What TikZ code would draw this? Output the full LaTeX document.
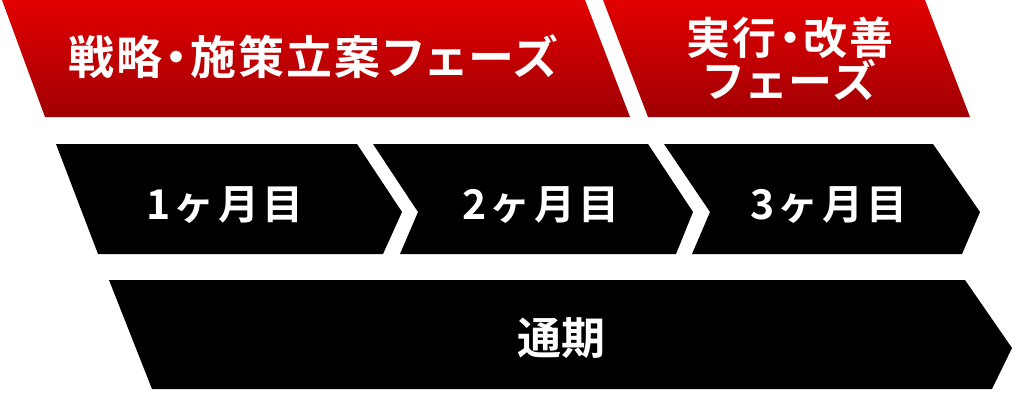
\documentclass[tikz,border=0pt]{standalone}
\usepackage{fontspec}
\newfontfamily\jp{Noto Sans CJK JP}[BoldFont={Noto Sans CJK JP Bold}]
\newfontfamily\jppalt{Noto Sans CJK JP}[BoldFont={Noto Sans CJK JP Bold}, RawFeature=+palt, LetterSpace=5]
\newfontfamily\jppaltw{Noto Sans CJK JP}[BoldFont={Noto Sans CJK JP Bold}, RawFeature=+palt, LetterSpace=8]
\newfontfamily\jpsp{Noto Sans CJK JP}[BoldFont={Noto Sans CJK JP Bold}, LetterSpace=8]
\definecolor{redtop}{RGB}{226,0,0}
\definecolor{redbot}{RGB}{160,0,4}
\begin{document}
\begin{tikzpicture}[x=1pt,y=-1pt,
  phasebox/.style={top color=redtop,bottom color=redbot,draw=none},
  stepbox/.style={fill=black,draw=none},
  lbl/.style={text=white,inner sep=0pt,align=center,anchor=center}]
\useasboundingbox (0,0) rectangle (1030,404);
% red phase shapes
\shade[phasebox] (2,0) -- (585,0) -- (630,117) -- (45,117) -- cycle;
\shade[phasebox] (603,0) -- (925,0) -- (970,117) -- (648,117) -- cycle;
% month chevrons
\fill[stepbox] (56,144) -- (357,144) -- (402,212) -- (383,254) -- (98,254) -- cycle;
\fill[stepbox] (373,144) -- (648,144) -- (693,212) -- (676,254) -- (400,254) -- (418,212) -- cycle;
\fill[stepbox] (664,144) -- (933,144) -- (980,212) -- (962,254) -- (692,254) -- (710,212) -- cycle;
% whole period bar
\fill[stepbox] (109,280) -- (965,280) -- (1012,348) -- (992,389) -- (152,389) -- cycle;
% labels
\node[lbl,font={\jppalt\bfseries\fontsize{46}{50}\selectfont}] (p1) at (313,57) {戦略・施策立案フェーズ};
\node[lbl,font={\jppalt\bfseries\fontsize{44}{42}\selectfont}] (p2a) at (790,38) {実行・改善};
\node[lbl,font={\jppaltw\bfseries\fontsize{44}{42}\selectfont}] (p2b) at (790,80) {フェーズ};
\node[lbl,font={\jpsp\bfseries\fontsize{41}{40}\selectfont}] (m1) at (225,205) {1ヶ月目};
\node[lbl,font={\jpsp\bfseries\fontsize{41}{40}\selectfont}] (m2) at (541,205) {2ヶ月目};
\node[lbl,font={\jpsp\bfseries\fontsize{41}{40}\selectfont}] (m3) at (829,205) {3ヶ月目};
\node[lbl,font={\jp\bfseries\fontsize{44}{44}\selectfont}] (all) at (561,338) {通期};
\end{tikzpicture}
\end{document}
